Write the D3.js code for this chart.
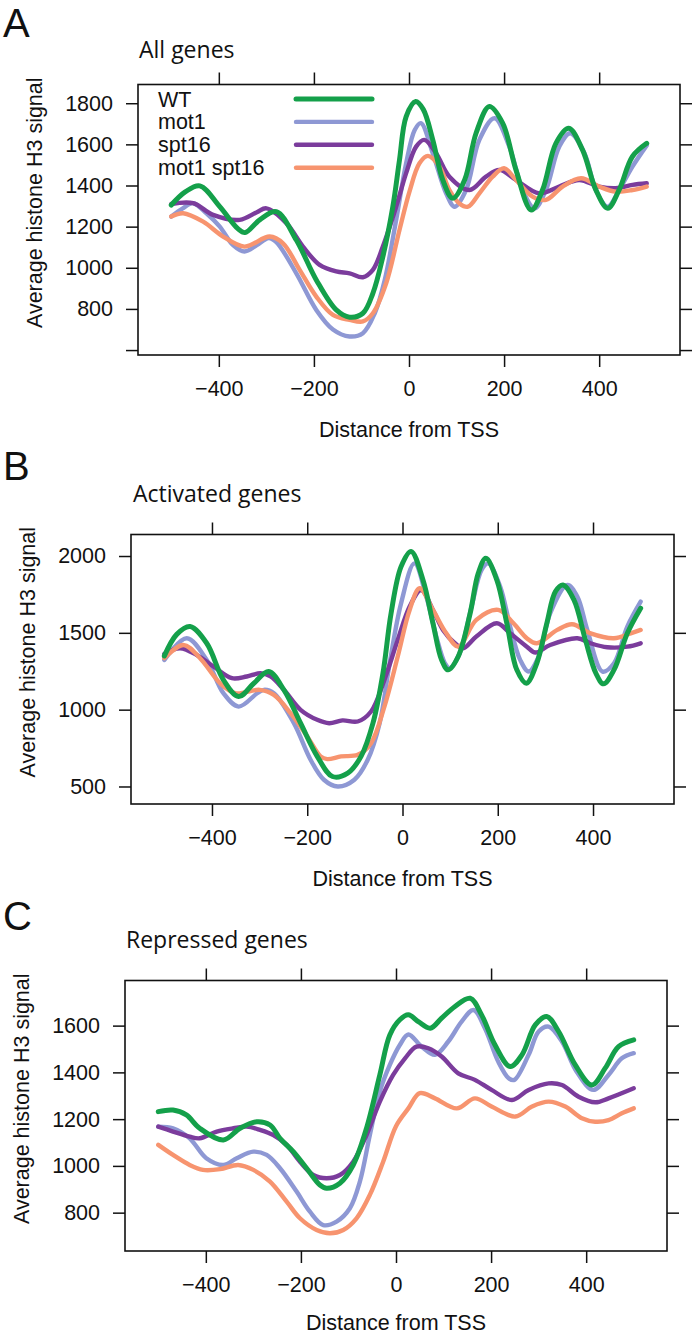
<!DOCTYPE html>
<html><head><meta charset="utf-8">
<script src="https://cdn.jsdelivr.net/npm/d3@7"></script>
<style>body{margin:0;background:#fff}</style>
</head><body><svg id="c" width="693" height="1335"></svg>
<script>
// ---------- DATA ----------
const seriesNames = ["WT", "mot1", "spt16", "mot1 spt16"];
const seriesColors = ["#14a04a", "#8e98d4", "#7b3c9c", "#f7946f"];
const xTicks = [-400, -200, 0, 200, 400];

// Panel A: All genes  ([distance, signal])
const allWT = [[-500,1305],[-470,1370],[-440,1398],[-398,1297],[-360,1190],[-345,1171],[-314,1233],[-279,1273],[-237,1135],[-195,941],[-153,795],[-125,760],[-97,779],[-76,876],[-55,1054],[-34,1297],[-20,1524],[-6,1735],[14,1808],[30,1770],[50,1622],[71,1427],[92,1338],[117,1427],[141,1654],[169,1784],[197,1703],[225,1476],[257,1281],[281,1379],[309,1605],[336,1678],[365,1573],[393,1379],[418,1289],[442,1379],[470,1541],[500,1605]];
const allMot1 = [[-500,1249],[-475,1290],[-454,1314],[-426,1265],[-398,1200],[-370,1110],[-346,1079],[-320,1110],[-295,1145],[-279,1125],[-237,973],[-195,795],[-160,700],[-125,666],[-97,682],[-72,779],[-51,941],[-27,1233],[-6,1508],[12,1670],[25,1703],[50,1557],[78,1362],[96,1297],[120,1378],[148,1622],[180,1727],[211,1589],[239,1378],[264,1289],[288,1378],[316,1589],[339,1654],[369,1557],[393,1378],[418,1297],[442,1378],[470,1492],[500,1595]];
const allSpt16 = [[-500,1310],[-454,1314],[-412,1257],[-356,1233],[-320,1270],[-300,1289],[-258,1217],[-223,1103],[-188,1014],[-153,982],[-125,973],[-97,954],[-76,990],[-55,1103],[-27,1297],[-6,1460],[15,1589],[32,1622],[57,1557],[85,1443],[127,1378],[162,1443],[190,1476],[225,1427],[274,1362],[316,1395],[358,1427],[400,1395],[435,1387],[470,1403],[500,1411]];
const allDouble = [[-500,1249],[-475,1265],[-433,1224],[-391,1152],[-346,1103],[-293,1152],[-265,1119],[-230,990],[-195,860],[-160,771],[-125,747],[-97,739],[-76,779],[-48,925],[-20,1184],[1,1370],[22,1508],[40,1544],[64,1492],[85,1378],[106,1313],[124,1297],[148,1362],[176,1443],[200,1484],[225,1427],[260,1346],[288,1330],[323,1395],[362,1435],[400,1395],[435,1370],[470,1378],[500,1395]];

// Panel B: Activated genes
const actWT = [[-500,1350],[-474,1490],[-446,1541],[-411,1432],[-376,1194],[-344,1085],[-312,1172],[-281,1248],[-249,1129],[-214,912],[-179,696],[-147,565],[-115,587],[-87,696],[-62,912],[-41,1237],[-24,1627],[-3,1931],[18,2030],[43,1844],[64,1562],[82,1324],[96,1259],[117,1346],[142,1627],[159,1887],[175,1985],[198,1844],[219,1562],[240,1259],[260,1172],[282,1302],[303,1562],[321,1768],[337,1811],[360,1714],[384,1454],[406,1237],[422,1168],[444,1259],[472,1497],[500,1660]];
const actMot1 = [[-500,1324],[-453,1465],[-411,1324],[-376,1107],[-344,1020],[-305,1107],[-291,1129],[-270,1107],[-228,912],[-193,674],[-165,544],[-136,500],[-101,544],[-73,674],[-48,912],[-27,1302],[-3,1692],[25,1952],[50,1736],[71,1476],[89,1302],[99,1270],[120,1367],[145,1671],[166,1909],[180,1952],[205,1801],[226,1541],[247,1324],[265,1248],[286,1346],[310,1627],[346,1811],[367,1736],[388,1519],[420,1248],[444,1302],[472,1541],[500,1703]];
const actSpt16 = [[-500,1363],[-467,1400],[-432,1356],[-397,1281],[-358,1205],[-327,1216],[-298,1237],[-277,1216],[-249,1129],[-214,999],[-179,934],[-154,912],[-126,930],[-94,923],[-66,988],[-38,1194],[-10,1454],[15,1671],[39,1779],[64,1649],[85,1519],[110,1432],[127,1400],[155,1476],[198,1562],[226,1497],[261,1410],[279,1372],[310,1421],[367,1465],[395,1432],[430,1406],[472,1410],[500,1432]];
const actDouble = [[-500,1335],[-460,1421],[-425,1335],[-383,1172],[-351,1107],[-300,1129],[-270,1096],[-235,977],[-200,826],[-172,696],[-158,678],[-129,696],[-94,706],[-66,782],[-38,1020],[-10,1346],[15,1649],[36,1790],[64,1649],[92,1497],[117,1410],[155,1584],[201,1649],[233,1562],[261,1465],[282,1432],[325,1519],[356,1556],[395,1497],[444,1465],[479,1497],[500,1519]];

// Panel C: Repressed genes
const repWT = [[-500,1232],[-469,1239],[-441,1218],[-413,1161],[-363,1111],[-328,1161],[-293,1189],[-265,1175],[-244,1118],[-216,1061],[-188,990],[-160,918],[-146,904],[-118,926],[-90,1004],[-62,1161],[-34,1389],[-13,1560],[8,1625],[26,1646],[47,1617],[72,1589],[96,1632],[124,1682],[156,1717],[180,1646],[208,1518],[240,1425],[265,1475],[293,1603],[317,1639],[342,1575],[377,1432],[412,1346],[440,1418],[468,1510],[500,1539]];
const repMot1 = [[-500,1168],[-469,1161],[-434,1118],[-399,1033],[-363,1004],[-335,1033],[-300,1061],[-272,1047],[-244,990],[-209,890],[-181,804],[-153,747],[-125,762],[-97,819],[-76,933],[-55,1132],[-34,1318],[-13,1432],[8,1517],[26,1562],[54,1510],[82,1475],[110,1532],[138,1617],[163,1667],[187,1589],[215,1446],[237,1375],[249,1368],[279,1475],[300,1575],[321,1596],[349,1532],[380,1403],[415,1325],[447,1389],[475,1460],[500,1482]];
const repSpt16 = [[-500,1168],[-469,1147],[-434,1125],[-413,1118],[-377,1147],[-342,1161],[-314,1168],[-286,1154],[-258,1132],[-230,1090],[-202,1018],[-174,961],[-146,947],[-118,961],[-90,1018],[-62,1132],[-34,1275],[-6,1389],[19,1460],[43,1510],[68,1503],[96,1468],[131,1396],[166,1368],[201,1325],[244,1282],[279,1325],[321,1353],[349,1346],[384,1296],[419,1272],[447,1289],[500,1332]];
const repDouble = [[-500,1090],[-469,1047],[-434,1004],[-406,983],[-370,986],[-332,1004],[-300,983],[-265,933],[-230,847],[-202,776],[-167,726],[-139,712],[-111,726],[-83,776],[-55,876],[-27,1018],[0,1170],[26,1246],[50,1311],[82,1289],[128,1246],[166,1289],[201,1254],[251,1211],[286,1254],[321,1275],[356,1254],[391,1204],[419,1189],[447,1196],[475,1225],[500,1246]];

const allYTicks = [600, 800, 1000, 1200, 1400, 1600, 1800];
const allYLabels = [800, 1000, 1200, 1400, 1600, 1800];
const actYTicks = [500, 1000, 1500, 2000];
const actYLabels = [500, 1000, 1500, 2000];
const repYTicks = [800, 1000, 1200, 1400, 1600];
const repYLabels = [800, 1000, 1200, 1400, 1600];

// ---------- LAYOUT ----------
const panels = [
  {letter:"A", title:"All genes", series:[allWT, allMot1, allSpt16, allDouble],
   yDomain:[576, 1891], yTicks:allYTicks, yLabels:allYLabels,
   box:{l:138, r:680, t:84.5, b:355}, letterY:37, titleX:139, titleY:58, legend:true, xlabOff:82},
  {letter:"B", title:"Activated genes", series:[actWT, actMot1, actSpt16, actDouble],
   yDomain:[386, 2140], yTicks:actYTicks, yLabels:actYLabels,
   box:{l:131, r:674, t:534.5, b:804}, letterY:480, titleX:133, titleY:502, legend:false, xlabOff:82},
  {letter:"C", title:"Repressed genes", series:[repWT, repMot1, repSpt16, repDouble],
   yDomain:[636, 1793], yTicks:repYTicks, yLabels:repYLabels,
   box:{l:125, r:667, t:980.5, b:1251}, letterY:930, titleX:126, titleY:948, legend:false, xlabOff:79}
];

const svg = d3.select("#c");
const tickFont = "'Liberation Sans', Arial, Helvetica, sans-serif";
const titleFont = "'Open Sans', 'Noto Sans', sans-serif";
const fs = 21.5, tickLen = 12;
const drawOrder = [1, 2, 3, 0];
const lineW = [5, 4.4, 4.4, 4.4];

panels.forEach(p => {
  const g = svg.append("g");
  const {l, r, t, b} = p.box;
  const x = d3.scaleLinear().domain([-570, 570]).range([l, r]);
  const y = d3.scaleLinear().domain(p.yDomain).range([b, t]);

  g.append("text").attr("x", 3).attr("y", p.letterY).text(p.letter)
    .style("font-family", tickFont).style("font-size", "40px").attr("fill", "#111");
  g.append("text").attr("x", p.titleX).attr("y", p.titleY).text(p.title)
    .style("font-family", titleFont).style("font-size", "23px").attr("fill", "#111");

  const fmt = d => d < 0 ? "\u2212" + Math.abs(d) : String(d);
  const bottom = g.append("g").attr("transform", `translate(0,${b})`)
    .call(d3.axisBottom(x).tickValues(xTicks).tickSize(tickLen).tickPadding(8).tickFormat(fmt));
  const top = g.append("g").attr("transform", `translate(0,${t})`)
    .call(d3.axisTop(x).tickValues(xTicks).tickSize(tickLen).tickFormat(""));
  const left = g.append("g").attr("transform", `translate(${l},0)`)
    .call(d3.axisLeft(y).tickValues(p.yTicks).tickSize(tickLen).tickPadding(13)
      .tickFormat(d => p.yLabels.includes(d) ? String(d) : ""));
  const right = g.append("g").attr("transform", `translate(${r},0)`)
    .call(d3.axisRight(y).tickValues(p.yTicks).tickSize(tickLen).tickFormat(""));
  [bottom, top, left, right].forEach(a => {
    a.select(".domain").remove();
    a.selectAll(".tick line").attr("stroke", "#111").attr("stroke-width", 1.5);
    a.selectAll("text").style("font-family", tickFont).style("font-size", fs + "px").attr("fill", "#111");
  });
  bottom.selectAll("text").attr("dy", null).attr("y", null)
    .attr("transform", `translate(0,40.5)`);

  g.append("rect").attr("x", l).attr("y", t).attr("width", r - l).attr("height", b - t)
    .attr("fill", "none").attr("stroke", "#111").attr("stroke-width", 1.6);

  g.append("text").attr("x", (l + r) / 2).attr("y", b + p.xlabOff).attr("text-anchor", "middle")
    .text("Distance from TSS").style("font-family", tickFont).style("font-size", fs + "px").attr("fill", "#111");
  g.append("text").attr("transform", `translate(${l - 96.5},${(t + b) / 2 - 17}) rotate(-90)`)
    .attr("text-anchor", "middle").text("Average histone H3 signal")
    .style("font-family", tickFont).style("font-size", fs + "px").attr("fill", "#111");

  const line = d3.line().x(d => x(d[0])).y(d => y(d[1])).curve(d3.curveCatmullRom.alpha(0.5));
  drawOrder.forEach(i => {
    g.append("path").datum(p.series[i]).attr("d", line)
      .attr("fill", "none").attr("stroke", seriesColors[i]).attr("stroke-width", lineW[i])
      .attr("stroke-linejoin", "round").attr("stroke-linecap", "round");
  });

  if (p.legend) {
    seriesNames.forEach((name, i) => {
      const cy = 99 + i * 22.9;
      g.append("text").attr("x", 158).attr("y", cy).attr("dy", "0.35em").text(name)
        .style("font-family", tickFont).style("font-size", fs + "px").attr("fill", "#111");
      g.append("line").attr("x1", 296).attr("x2", 372).attr("y1", cy).attr("y2", cy)
        .attr("stroke", seriesColors[i]).attr("stroke-width", lineW[i]).attr("stroke-linecap", "round");
    });
  }
});
</script></body></html>
